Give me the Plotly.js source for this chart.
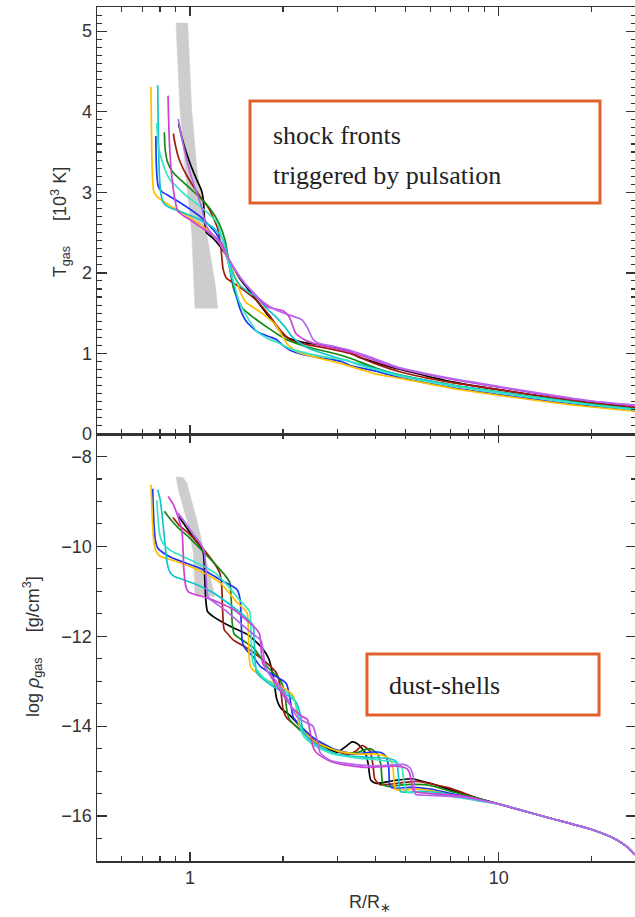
<!DOCTYPE html>
<html><head><meta charset="utf-8">
<script src="https://cdn.plot.ly/plotly-3.0.1.min.js"></script>
<style>html,body{margin:0;padding:0;overflow:hidden;background:#fff}</style>
</head><body><div id="chart" style="width:636px;height:917px"></div>
<script>
// ---------- Data: top panel (R/R*, T_gas in 10^3 K) ----------
const blackR_T = [0.918,0.95,1.0,1.05,1.09,1.105,1.115,1.13,1.18,1.25,1.33,1.45,1.6,1.75,1.87,1.96,2.06,2.3,2.7,3.3,3.5,3.75,4.2,4.8,7,10,15,20,27.6];
const blackT   = [3.85,3.62,3.36,3.16,3.02,2.9,2.65,2.50,2.44,2.33,2.18,1.93,1.72,1.52,1.38,1.27,1.20,1.14,1.10,1.02,0.96,0.92,0.86,0.80,0.65,0.55,0.45,0.39,0.33];
const darkredR_T = [0.883,0.895,0.92,0.96,1.0,1.06,1.15,1.23,1.26,1.28,1.31,1.40,1.50,1.64,1.80,1.96,2.11,2.4,2.9,3.3,4.0,4.8,7,10,15,20,27.6];
const darkredT   = [3.73,3.60,3.42,3.26,3.14,2.99,2.80,2.55,2.30,2.05,1.94,1.86,1.78,1.66,1.48,1.29,1.17,1.11,1.05,1.0,0.87,0.77,0.64,0.55,0.45,0.385,0.33];
const greenR_T = [0.826,0.830,0.845,0.88,0.96,1.04,1.16,1.24,1.30,1.33,1.36,1.39,1.48,1.6,1.77,2.06,2.4,3.0,3.3,4.0,4.8,7,10,15,20,27.6];
const greenT   = [3.745,3.55,3.38,3.25,3.11,2.99,2.80,2.62,2.40,2.18,1.95,1.78,1.56,1.45,1.33,1.17,1.08,0.99,0.94,0.82,0.73,0.61,0.52,0.43,0.37,0.31];
const blueR_T = [0.775,0.777,0.782,0.79,0.81,0.85,0.93,1.077,1.22,1.32,1.36,1.40,1.45,1.52,1.65,1.8,1.91,2.0,2.11,2.3,2.7,3.1,3.3,4.0,4.8,7,10,15,20,27.6];
const blueT   = [3.70,3.40,3.18,3.07,3.01,2.96,2.87,2.70,2.48,2.18,1.98,1.78,1.56,1.40,1.27,1.21,1.17,1.10,1.04,0.99,0.94,0.90,0.85,0.78,0.70,0.58,0.49,0.40,0.345,0.29];
const goldR_T = [0.747,0.750,0.754,0.762,0.78,0.85,0.95,1.05,1.15,1.25,1.32,1.40,1.46,1.52,1.62,1.75,1.88,1.97,2.06,2.22,2.5,2.84,3.3,3.95,4.8,7,10,15,20,27.6];
const goldT   = [4.31,3.80,3.30,3.02,2.95,2.85,2.74,2.63,2.52,2.38,2.18,1.95,1.75,1.63,1.56,1.47,1.37,1.25,1.12,1.02,0.96,0.91,0.84,0.75,0.69,0.57,0.48,0.39,0.335,0.285];
const cyanR_T = [0.786,0.789,0.795,0.805,0.82,0.849,0.93,1.077,1.2,1.28,1.33,1.38,1.45,1.55,1.64,1.76,1.9,2.03,2.15,2.4,2.8,3.3,4.0,4.8,7,10,15,20,27.6];
const cyanT   = [4.33,3.80,3.25,2.98,2.87,2.82,2.76,2.66,2.55,2.42,2.18,1.98,1.85,1.76,1.70,1.57,1.45,1.33,1.20,1.07,0.98,0.90,0.81,0.73,0.61,0.52,0.43,0.365,0.31];
const turqR_T = [0.780,0.785,0.79,0.81,0.83,0.86,0.905,0.97,1.05,1.22,1.32,1.38,1.45,1.55,1.65,1.8,1.96,2.1,2.4,2.8,3.2,3.5,4.0,4.8,7,10,15,20,27.6];
const turqT   = [3.86,3.70,3.57,3.40,3.28,3.16,3.07,2.96,2.86,2.63,2.18,1.90,1.62,1.42,1.27,1.18,1.12,1.06,1.0,0.95,0.92,0.86,0.80,0.72,0.60,0.51,0.42,0.36,0.30];
const magentaR_T = [0.849,0.852,0.858,0.87,0.89,0.91,0.928,0.96,1.0,1.1,1.2,1.26,1.33,1.45,1.6,1.78,1.9,2.0,2.1,2.2,2.35,2.45,2.6,2.9,3.3,3.8,4.8,7,10,15,20,27.6];
const magentaT   = [4.20,3.95,3.60,3.25,2.95,2.78,2.74,2.70,2.66,2.55,2.45,2.38,2.18,1.95,1.75,1.58,1.55,1.53,1.45,1.25,1.17,1.14,1.11,1.07,1.02,0.94,0.81,0.68,0.58,0.47,0.405,0.35];
const violetR_T = [0.916,0.935,0.96,1.0,1.05,1.09,1.11,1.13,1.18,1.25,1.33,1.45,1.6,1.75,1.9,2.05,2.2,2.3,2.4,2.5,2.6,2.9,3.3,3.8,4.8,7,10,15,20,27.6];
const violetT   = [3.91,3.72,3.52,3.25,3.0,2.82,2.68,2.58,2.48,2.36,2.18,1.95,1.76,1.62,1.54,1.49,1.45,1.42,1.32,1.18,1.13,1.09,1.04,0.96,0.82,0.69,0.59,0.48,0.41,0.36];

// ---------- Data: bottom panel (R/R*, log rho_gas) ----------
const blackR_D = [0.918,0.96,1.02,1.08,1.105,1.115,1.125,1.14,1.2,1.35,1.55,1.72,1.8,1.86,1.91,1.97,2.1,2.27,2.5,2.8,3.0,3.2,3.35,3.5,3.7,3.78,3.85,4.0,4.5,5.2,6.0,7.0,8.5,10.1,14.7,20,24,26,27.6];
const blackD   = [-9.33,-9.52,-9.78,-10.0,-10.15,-10.6,-11.2,-11.45,-11.58,-11.78,-11.98,-12.28,-12.5,-12.9,-13.4,-13.6,-13.75,-14.0,-14.3,-14.5,-14.58,-14.45,-14.35,-14.4,-14.6,-14.85,-15.2,-15.27,-15.22,-15.17,-15.27,-15.42,-15.6,-15.74,-16.05,-16.3,-16.52,-16.68,-16.86];
const darkredR_D = [0.881,0.92,1.0,1.07,1.13,1.2,1.25,1.267,1.275,1.29,1.33,1.38,1.56,1.77,1.9,1.96,2.0,2.05,2.27,2.5,2.8,3.22,3.45,3.61,3.83,3.92,3.97,4.13,4.6,5.43,6.95,8.5,10.1,14.7,20,24,26,27.6];
const darkredD   = [-9.36,-9.52,-9.74,-9.95,-10.14,-10.38,-10.6,-10.9,-11.4,-11.85,-11.96,-12.08,-12.3,-12.59,-12.8,-13.1,-13.6,-13.8,-14.07,-14.3,-14.47,-14.63,-14.55,-14.43,-14.56,-14.9,-15.18,-15.3,-15.28,-15.23,-15.38,-15.6,-15.74,-16.05,-16.3,-16.52,-16.68,-16.86];
const greenR_D = [0.826,0.86,0.92,1.0,1.08,1.2,1.3,1.345,1.36,1.37,1.39,1.45,1.6,1.79,1.95,2.02,2.06,2.1,2.3,2.6,3.0,3.4,3.83,4.05,4.15,4.22,4.37,5.0,6.0,7.0,8.5,10.1,14.7,20,24,26,27.6];
const greenD   = [-9.22,-9.38,-9.6,-9.82,-10.05,-10.38,-10.65,-10.8,-11.2,-11.7,-11.95,-12.05,-12.25,-12.7,-12.95,-13.2,-13.65,-13.85,-14.12,-14.4,-14.55,-14.6,-14.5,-14.62,-14.85,-15.3,-15.34,-15.3,-15.32,-15.45,-15.6,-15.74,-16.05,-16.3,-16.52,-16.68,-16.86];
const blueR_D = [0.757,0.760,0.765,0.772,0.785,0.81,0.87,0.95,1.104,1.25,1.42,1.455,1.465,1.48,1.52,1.6,1.69,1.85,2.05,2.11,2.16,2.25,2.5,2.9,3.4,3.83,4.13,4.3,4.4,4.45,4.6,5.2,6.0,7.0,8.5,10.1,14.7,20,24,26,27.6];
const blueD   = [-8.72,-9.1,-9.55,-9.85,-10.03,-10.12,-10.25,-10.35,-10.52,-10.74,-10.96,-11.2,-11.7,-12.15,-12.3,-12.45,-12.67,-12.85,-13.05,-13.4,-13.8,-13.95,-14.25,-14.5,-14.62,-14.58,-14.58,-14.66,-14.9,-15.34,-15.38,-15.36,-15.4,-15.5,-15.62,-15.74,-16.05,-16.3,-16.52,-16.68,-16.86];
const goldR_D = [0.747,0.750,0.755,0.762,0.775,0.80,0.9,1.0,1.1,1.25,1.4,1.53,1.545,1.555,1.57,1.62,1.75,1.95,2.15,2.21,2.25,2.32,2.55,3.0,3.5,4.0,4.22,4.45,4.55,4.62,4.8,5.4,6.2,7.2,8.5,10.1,14.7,20,24,26,27.6];
const goldD   = [-8.63,-8.9,-9.4,-9.85,-10.1,-10.22,-10.33,-10.45,-10.58,-10.8,-11.2,-11.48,-11.9,-12.45,-12.68,-12.78,-12.95,-13.1,-13.3,-13.6,-13.95,-14.1,-14.35,-14.55,-14.62,-14.62,-14.65,-14.74,-14.95,-15.4,-15.42,-15.4,-15.45,-15.55,-15.64,-15.74,-16.05,-16.3,-16.52,-16.68,-16.86];
const cyanR_D = [0.786,0.80,0.815,0.83,0.845,0.865,0.89,0.95,1.05,1.2,1.35,1.5,1.6,1.615,1.625,1.64,1.68,1.8,2.0,2.2,2.28,2.32,2.4,2.6,3.0,3.5,4.0,4.4,4.65,4.72,4.8,5.0,5.6,6.4,7.4,8.5,10.1,14.7,20,24,26,27.6];
const cyanD   = [-8.74,-8.95,-9.4,-9.95,-10.4,-10.6,-10.67,-10.74,-10.85,-11.05,-11.3,-11.55,-11.75,-12.1,-12.55,-12.78,-12.88,-13.05,-13.25,-13.45,-13.75,-14.1,-14.25,-14.45,-14.62,-14.68,-14.7,-14.72,-14.78,-15.0,-15.45,-15.47,-15.45,-15.48,-15.56,-15.65,-15.74,-16.05,-16.3,-16.52,-16.68,-16.86];
const turqR_D = [0.780,0.785,0.79,0.80,0.82,0.86,0.93,1.0,1.11,1.2,1.33,1.45,1.56,1.575,1.585,1.6,1.65,1.75,1.95,2.15,2.24,2.28,2.35,2.55,2.9,3.4,3.9,4.3,4.6,4.85,4.92,5.05,5.5,6.2,7.0,8.5,10.1,14.7,20,24,26,27.6];
const turqD   = [-8.97,-9.25,-9.5,-9.78,-9.95,-10.08,-10.2,-10.3,-10.45,-10.58,-10.89,-11.2,-11.45,-11.85,-12.35,-12.6,-12.75,-12.95,-13.15,-13.35,-13.7,-14.05,-14.25,-14.45,-14.62,-14.7,-14.74,-14.77,-14.8,-14.9,-15.2,-15.47,-15.47,-15.5,-15.56,-15.65,-15.74,-16.05,-16.3,-16.52,-16.68,-16.86];
const magentaR_D = [0.85,0.88,0.905,0.925,0.94,0.948,0.955,0.97,0.99,1.05,1.13,1.25,1.38,1.5,1.62,1.68,1.70,1.72,1.76,1.85,2.0,2.15,2.3,2.4,2.46,2.5,2.56,2.7,2.9,3.3,3.74,4.2,4.68,5.05,5.15,5.22,5.3,5.44,6.0,7.0,8.0,9.0,10.1,14.7,20,24,26,27.6];
const magentaD   = [-8.89,-9.05,-9.25,-9.45,-9.63,-9.95,-10.5,-10.9,-11.02,-11.08,-11.14,-11.26,-11.4,-11.6,-11.8,-11.95,-12.3,-12.6,-12.72,-12.95,-13.3,-13.6,-13.78,-13.85,-14.2,-14.45,-14.58,-14.7,-14.8,-14.88,-14.92,-14.9,-14.89,-14.95,-15.05,-15.3,-15.44,-15.47,-15.5,-15.53,-15.58,-15.66,-15.74,-16.05,-16.3,-16.52,-16.68,-16.86];
const violetR_D = [0.914,0.96,1.0,1.077,1.11,1.125,1.135,1.15,1.2,1.3,1.45,1.6,1.7,1.73,1.75,1.78,1.85,2.0,2.22,2.35,2.5,2.58,2.64,2.75,2.9,3.3,3.8,4.4,4.9,5.15,5.28,5.34,5.38,5.5,6.0,7.0,8.0,9.0,10.1,14.7,20,24,26,27.6];
const violetD   = [-9.26,-9.45,-9.63,-9.92,-10.1,-10.5,-11.0,-11.15,-11.25,-11.42,-11.7,-11.95,-12.1,-12.4,-12.65,-12.78,-12.9,-13.2,-13.79,-13.9,-14.0,-14.3,-14.59,-14.7,-14.78,-14.84,-14.88,-14.87,-14.85,-14.92,-15.1,-15.4,-15.52,-15.53,-15.54,-15.56,-15.6,-15.67,-15.74,-16.05,-16.3,-16.52,-16.68,-16.86];

// ---------- Grey shaded bands ----------
const bandTopR = [0.901,0.928,0.963,1.013,1.038,1.23,1.205,1.133,1.051,1.013,0.983,0.901];
const bandTopT = [5.10,4.02,3.31,2.49,1.56,1.56,1.87,2.49,3.31,4.02,5.10,5.10];
const bandBotR = [0.901,0.917,0.976,1.025,1.038,1.205,1.133,1.051,0.976,0.949,0.901];
const bandBotD = [-8.45,-8.74,-9.41,-10.14,-11.07,-11.12,-10.36,-9.41,-8.58,-8.47,-8.45];

// ---------- Tick labels ----------
const xMajor = [1, 10];
const xMajorText = ['1', '10'];
const xMinor = [0.6,0.7,0.8,0.9,2,3,4,5,6,7,8,9,20];
const yTopTicks = [0,1,2,3,4,5];
const yBotTicks = [-8,-10,-12,-14,-16];

const series = [
  {name:'black',   color:'#000000', rT:blackR_T,   T:blackT,   rD:blackR_D,   D:blackD},
  {name:'darkred', color:'#a01a08', rT:darkredR_T, T:darkredT, rD:darkredR_D, D:darkredD},
  {name:'green',   color:'#128a12', rT:greenR_T,   T:greenT,   rD:greenR_D,   D:greenD},
  {name:'blue',    color:'#1a38f5', rT:blueR_T,    T:blueT,    rD:blueR_D,    D:blueD},
  {name:'gold',    color:'#ffbe00', rT:goldR_T,    T:goldT,    rD:goldR_D,    D:goldD},
  {name:'cyan',    color:'#12c4cc', rT:cyanR_T,    T:cyanT,    rD:cyanR_D,    D:cyanD},
  {name:'turq',    color:'#34e6c4', rT:turqR_T,    T:turqT,    rD:turqR_D,    D:turqD},
  {name:'magenta', color:'#d040d4', rT:magentaR_T, T:magentaT, rD:magentaR_D, D:magentaD},
  {name:'violet',  color:'#b466ee', rT:violetR_T,  T:violetT,  rD:violetR_D,  D:violetD}
];

const traces = [];
traces.push({x:bandTopR, y:bandTopT, xaxis:'x', yaxis:'y', mode:'lines', fill:'toself',
  fillcolor:'#cdcdcd', line:{color:'#cdcdcd', width:0.5}, hoverinfo:'skip'});
traces.push({x:bandBotR, y:bandBotD, xaxis:'x2', yaxis:'y2', mode:'lines', fill:'toself',
  fillcolor:'#cdcdcd', line:{color:'#cdcdcd', width:0.5}, hoverinfo:'skip'});
series.forEach(s => {
  traces.push({x:s.rT, y:s.T, xaxis:'x', yaxis:'y', mode:'lines', name:s.name,
    line:{color:s.color, width:1.7, shape:'spline', smoothing:0.6}});
});
series.forEach(s => {
  traces.push({x:s.rD, y:s.D, xaxis:'x2', yaxis:'y2', mode:'lines', name:s.name,
    line:{color:s.color, width:1.7, shape:'spline', smoothing:0.6}});
});

const axLine = {showline:true, linecolor:'#333', linewidth:1.5, mirror:'ticks',
  ticks:'inside', tickcolor:'#333', tickwidth:1.3, showgrid:false, zeroline:false};
const tickFont = {family:'Liberation Sans, Arial, sans-serif', size:18, color:'#333'};

const layout = {
  width:636, height:917,
  margin:{l:97, r:0, t:7, b:56},
  paper_bgcolor:'#fff', plot_bgcolor:'#fff',
  showlegend:false,
  xaxis: Object.assign({}, axLine, {type:'log', range:[-0.3013,1.4448], domain:[0,1], anchor:'y',
    tickmode:'array', tickvals:xMajor, ticktext:xMajorText, ticklen:9, showticklabels:false,
    minor:{tickmode:'array', tickvals:xMinor, ticklen:5, ticks:'inside', tickcolor:'#333', tickwidth:1.2}}),
  yaxis: Object.assign({}, axLine, {range:[0,5.3], domain:[0.5,1], anchor:'x',
    tickmode:'array', tickvals:yTopTicks, ticklen:10, tickfont:tickFont,
    minor:{dtick:0.1, tick0:0, ticklen:5, ticks:'inside', tickcolor:'#333', tickwidth:1.1}}),
  xaxis2: Object.assign({}, axLine, {type:'log', range:[-0.3013,1.4448], domain:[0,1], anchor:'y2',
    tickmode:'array', tickvals:xMajor, ticktext:xMajorText, ticklen:9, tickfont:tickFont,
    minor:{tickmode:'array', tickvals:xMinor, ticklen:5, ticks:'inside', tickcolor:'#333', tickwidth:1.2}}),
  yaxis2: Object.assign({}, axLine, {range:[-17,-7.5], domain:[0,0.5], anchor:'x2',
    tickmode:'array', tickvals:yBotTicks, ticklen:10, tickfont:tickFont,
    minor:{dtick:0.5, tick0:-8, ticklen:5, ticks:'inside', tickcolor:'#333', tickwidth:1.1}}),
  shapes:[
    {type:'rect', xref:'paper', yref:'paper', x0:0.2839, x1:0.9332, y0:0.7705, y1:0.8899,
     line:{color:'#e0622a', width:3}, fillcolor:'rgba(0,0,0,0)'},
    {type:'rect', xref:'paper', yref:'paper', x0:0.5009, x1:0.9314, y0:0.1710, y1:0.2424,
     line:{color:'#e0622a', width:3}, fillcolor:'rgba(0,0,0,0)'}
  ],
  annotations:[
    {xref:'paper', yref:'paper', x:0.3228, y:0.850, xanchor:'left', yanchor:'middle', showarrow:false,
     text:'shock fronts', font:{family:'Liberation Serif, serif', size:26, color:'#222'}},
    {xref:'paper', yref:'paper', x:0.3228, y:0.803, xanchor:'left', yanchor:'middle', showarrow:false,
     text:'triggered by pulsation', font:{family:'Liberation Serif, serif', size:26, color:'#222'}},
    {xref:'paper', yref:'paper', x:0.538, y:0.206, xanchor:'left', yanchor:'middle', showarrow:false,
     text:'dust-shells', font:{family:'Liberation Serif, serif', size:26, color:'#222'}},
    {xref:'paper', yref:'paper', x:-0.0686, y:0.748, xanchor:'center', yanchor:'middle', showarrow:false,
     textangle:-90, text:'T<sub>gas</sub>\u00a0\u00a0\u00a0\u00a0\u00a0[10<sup>3</sup> K]',
     font:{family:'Liberation Sans, Arial, sans-serif', size:18, color:'#333'}},
    {xref:'paper', yref:'paper', x:-0.1187, y:0.2506, xanchor:'center', yanchor:'middle', showarrow:false,
     textangle:-90, text:'log <i>\u03c1</i><sub>gas</sub>\u00a0\u00a0\u00a0\u00a0\u00a0[g/cm<sup>3</sup>]',
     font:{family:'Liberation Sans, Arial, sans-serif', size:18, color:'#333'}},
    {xref:'paper', yref:'paper', x:0.5065, y:-0.0492, xanchor:'center', yanchor:'middle', showarrow:false,
     text:'R/R<sub>\u2217</sub>', font:{family:'Liberation Sans, Arial, sans-serif', size:18, color:'#333'}}
  ]
};

Plotly.newPlot('chart', traces, layout, {staticPlot:true, displayModeBar:false});
</script>
</body></html>
